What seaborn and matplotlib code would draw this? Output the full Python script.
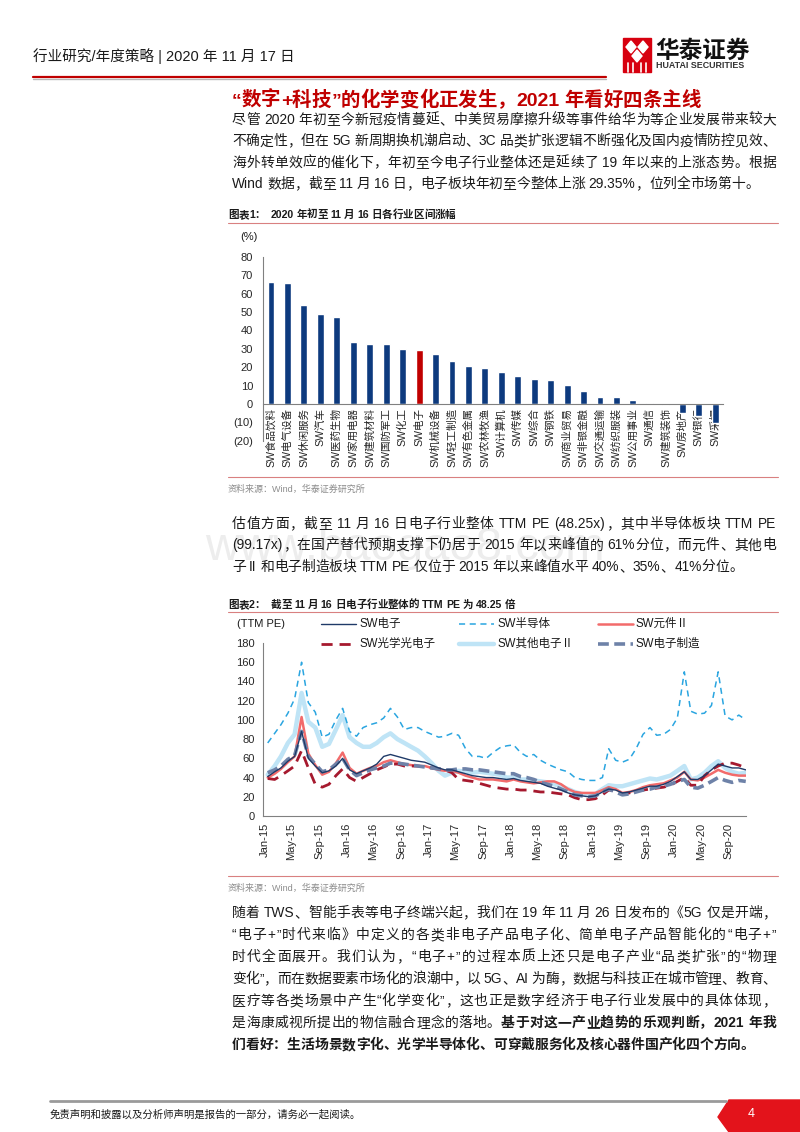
import re

import numpy as np
import pandas as pd
import matplotlib
matplotlib.use("Agg")
from matplotlib import pyplot as plt
import matplotlib.dates as mdates
from matplotlib.lines import Line2D
from matplotlib.patches import Polygon, Rectangle
from matplotlib.ticker import FuncFormatter
import seaborn as sns

# ---- data: 2020 YTD change by SW industry (%) ----
industries = ["SW食品饮料", "SW电气设备", "SW休闲服务", "SW汽车", "SW医药生物", "SW家用电器",
              "SW建筑材料", "SW国防军工", "SW化工", "SW电子", "SW机械设备", "SW轻工制造",
              "SW有色金属", "SW农林牧渔", "SW计算机", "SW传媒", "SW综合", "SW钢铁",
              "SW商业贸易", "SW非银金融", "SW交通运输", "SW纺织服装", "SW公用事业", "SW通信",
              "SW建筑装饰", "SW房地产", "SW银行", "SW采掘"]
changes = [66.5, 65.8, 54.0, 49.1, 47.4, 34.0, 32.6, 32.4, 29.7, 29.35, 27.1, 23.4,
           20.7, 19.8, 17.3, 15.4, 13.7, 13.1, 10.1, 7.3, 3.9, 3.7, 2.2, 0.6,
           -0.5, -4.9, -6.4, -10.5]
bar_ticks = [80, 70, 60, 50, 40, 30, 20, 10, 0, -10, -20]

# ---- data: monthly TTM PE, Jan-2015 .. Nov-2020 ----
pe_months = pd.date_range("2015-01-01", periods=71, freq="MS") + pd.Timedelta(days=14)
pe_elec = [41, 46, 50, 57, 62, 88, 60, 52, 45, 47, 52, 60,
           48, 44, 47, 50, 54, 62, 64, 62, 60, 58, 57, 56,
           53, 50, 48, 48, 46, 44, 42, 41, 40, 40, 39, 38,
           39, 37, 36, 35, 34, 31, 29, 27, 24, 22, 21, 20,
           21, 25, 28, 27, 24, 25, 27, 29, 31, 31, 33, 36,
           41, 46, 38, 38, 42, 48, 54, 52, 50, 50, 48]
pe_semi = [76, 86, 95, 107, 122, 160, 118, 108, 82, 85, 100, 112,
           88, 83, 92, 95, 97, 102, 112, 103, 90, 92, 92, 88,
           85, 82, 83, 86, 84, 70, 62, 62, 60, 66, 71, 73,
           74, 66, 62, 64, 58, 54, 51, 48, 46, 40, 38, 37,
           37, 40, 70, 58, 56, 59, 70, 85, 92, 84, 85, 90,
           102, 150, 109, 106, 107, 115, 150, 104, 100, 105, 100]
pe_comp = [40, 44, 49, 56, 62, 103, 65, 53, 43, 46, 55, 66,
           50, 44, 47, 50, 52, 56, 58, 56, 54, 53, 52, 52,
           50, 48, 47, 47, 45, 42, 40, 38, 38, 38, 37, 36,
           38, 36, 35, 34, 35, 36, 36, 33, 28, 25, 24, 24,
           24, 27, 30, 28, 24, 25, 27, 30, 32, 33, 34, 37,
           40, 46, 38, 37, 40, 44, 48, 45, 43, 42, 42]
pe_opto = [39, 38, 42, 47, 52, 68, 50, 33, 30, 33, 42, 49,
           40, 36, 40, 44, 48, 51, 54, 54, 52, 52, 52, 51,
           50, 49, 48, 45, 38, 37, 36, 34, 32, 30, 29, 28,
           28, 27, 27, 26, 25, 25, 24, 23, 22, 19, 17, 17,
           18, 22, 27, 26, 23, 24, 26, 27, 28, 29, 30, 32,
           36, 40, 32, 32, 42, 48, 52, 55, 55, 53, 50]
pe_other = [43, 52, 62, 76, 85, 128, 98, 92, 72, 75, 90, 105,
            82, 76, 72, 72, 76, 82, 86, 80, 76, 72, 68, 62,
            55, 47, 42, 45, 47, 46, 45, 46, 45, 44, 43, 40,
            40, 38, 38, 37, 36, 35, 33, 31, 28, 25, 23, 22,
            23, 28, 32, 31, 31, 33, 35, 37, 39, 38, 40, 42,
            47, 52, 38, 40, 45, 52, 57, 50, 46, 44, 45]
pe_mfg = [45, 48, 52, 59, 63, 88, 62, 54, 46, 48, 54, 60,
          48, 42, 45, 48, 50, 52, 55, 55, 54, 53, 52, 51,
          50, 49, 48, 48, 49, 49, 48, 48, 47, 46, 45, 44,
          44, 41, 40, 38, 35, 33, 31, 28, 25, 22, 21, 20,
          21, 25, 28, 25, 22, 23, 25, 27, 28, 30, 31, 33,
          36, 38, 30, 29, 32, 36, 40, 37, 35, 37, 36]
pe_ticks = list(range(0, 181, 20))

W, H = 800, 1132
BODY = 9.95


def fx(x):
    return x / W


def fy(y):
    return 1 - y / H


sns.set_style("white")
plt.rcParams["font.family"] = ["Liberation Sans", "Noto Sans CJK SC"]
plt.rcParams["axes.unicode_minus"] = False

fig = plt.figure(figsize=(8, 11.32), dpi=100)
renderer = fig.canvas.get_renderer()
TXT = "#1a1a1a"
RED = "#C00000"


def put_line(segs, x, y, size=BODY, right=None, color=TXT):
    """draw one text line, optionally justified between x and right (pixels)"""
    toks = []
    for text, weight in segs:
        for tok in re.findall(r"[!-~]+| |[^ -~]", text):
            toks.append((tok, weight))
    base = fy(y + size * 100 / 72 * 0.36)
    arts, widths = [], []
    for tok, weight in toks:
        if tok == " ":
            arts.append(None)
            widths.append(size * 100 / 72 * 0.25)
            continue
        t = fig.text(0, base, tok, fontsize=size, fontweight=weight, color=color,
                     va="baseline", ha="left")
        arts.append(t)
        widths.append(t.get_window_extent(renderer=renderer).width)
    gap = 0
    if right is not None and len(toks) > 1:
        gap = (right - x - sum(widths)) / (len(toks) - 1)
    pos = x
    for t, w in zip(arts, widths):
        if t is not None:
            t.set_x(fx(pos))
        pos += w + gap


def hline(x0, x1, y, color, lw):
    fig.add_artist(Line2D([fx(x0), fx(x1)], [fy(y), fy(y)], color=color, lw=lw))


def paragraph(lines, x, y0, step, right):
    for i, segs in enumerate(lines):
        last = i == len(lines) - 1
        put_line(segs, x, y0 + i * step, right=None if last else right)


# ---- page header ----
fig.text(fx(33), fy(56), "行业研究/年度策略 | 2020 年 11 月 17 日", fontsize=10.5, color=TXT, va="center")
hline(33, 606, 77, RED, 1.6)
hline(33, 606, 79, "#b8b8b8", 1.0)
fig.add_artist(Rectangle((fx(623), fy(72)), 28 / W, 34 / H, color="#D7000F", transform=fig.transFigure))
for cx, cy in [(631, 47), (643, 47), (637, 56)]:
    fig.add_artist(Polygon([(fx(cx - 5), fy(cy)), (fx(cx), fy(cy - 6)), (fx(cx + 5), fy(cy)), (fx(cx), fy(cy + 6))],
                           closed=True, color="white", transform=fig.transFigure))
for sx in [628, 633, 641, 646]:
    fig.add_artist(Line2D([fx(sx), fx(sx)], [fy(63), fy(72)], color="white", lw=1.2))
fig.text(fx(655), fy(51), "华泰证券", fontsize=17, fontweight="bold", color="#111111", va="center")
fig.text(fx(656), fy(66), "HUATAI SECURITIES", fontsize=6.4, fontweight="bold", color="#333333", va="center")

# ---- section title and first paragraph ----
put_line([("“数字+科技”的化学变化正发生，2021 年看好四条主线", "bold")], 232, 99, size=14, color=RED)
para1 = [
    [("尽管 2020 年初至今新冠疫情蔓延、中美贸易摩擦升级等事件给华为等企业发展带来较大", "normal")],
    [("不确定性，但在 5G 新周期换机潮启动、3C 品类扩张逻辑不断强化及国内疫情防控见效、", "normal")],
    [("海外转单效应的催化下，年初至今电子行业整体还是延续了 19 年以来的上涨态势。根据", "normal")],
    [("Wind 数据，截至 11 月 16 日，电子板块年初至今整体上涨 29.35%，位列全市场第十。", "normal")],
]
paragraph(para1, 232, 119, 21.3, 776)

# ---- figure 1 ----
put_line([("图表1：  2020 年初至 11 月 16 日各行业区间涨幅", "bold")], 228, 214, size=7.6)
hline(228, 778, 223, "#D98080", 0.8)
fig.text(fx(240), fy(237), "(%)", fontsize=8, color=TXT, va="center")

ax1 = fig.add_axes([fx(262.8), fy(440.75), 460.6 / W, (440.75 - 257) / H])
bar_df = pd.DataFrame({"industry": industries, "chg": changes})
bar_colors = [RED if n == "SW电子" else "#0D3A7E" for n in industries]
sns.barplot(data=bar_df, x="industry", y="chg", hue="industry", palette=bar_colors,
            legend=False, width=0.42, saturation=1, ax=ax1)
# the category axis sits on the zero line (set before tick styling: it resets ticks)
ax1.spines["bottom"].set_position(("data", 0))
for s in ["top", "right"]:
    ax1.spines[s].set_visible(False)
for s in ["bottom", "left"]:
    ax1.spines[s].set_color("#808080")
    ax1.spines[s].set_linewidth(0.8)
ax1.set_xlim(-0.5, len(industries) - 0.5)
ax1.set_ylim(-20, 80)
ax1.set_yticks(bar_ticks)
ax1.yaxis.set_major_formatter(FuncFormatter(lambda v, p: f"({abs(int(v))})" if v < 0 else f"{int(v)}"))
ax1.set_xticks(range(len(industries)))
ax1.set_xticklabels(industries, fontsize=7.6)
ax1.set_xticks(np.arange(-0.5, len(industries), 1), minor=True)
ax1.tick_params(axis="x", which="major", length=0, pad=3, labelrotation=90)
ax1.tick_params(axis="x", which="minor", length=3, direction="out", color="#808080")
ax1.tick_params(axis="y", length=4, direction="out", color="#808080", labelsize=8, pad=3)
ax1.set_xlabel("")
ax1.set_ylabel("")
ax1.set_facecolor("none")

hline(228, 778, 477, "#D98080", 0.8)
fig.text(fx(228), fy(489), "资料来源：Wind，华泰证券研究所", fontsize=6.5, color="#8c8c8c", va="center")

# ---- second paragraph ----
fig.text(fx(405), fy(548), "www.baogao8.com", fontsize=34, color="#ededed", ha="center", va="center", zorder=0)
para2 = [
    [("估值方面，截至 11 月 16 日电子行业整体 TTM PE (48.25x)，其中半导体板块 TTM PE", "normal")],
    [("(99.17x)，在国产替代预期支撑下仍居于 2015 年以来峰值的 61%分位，而元件、其他电", "normal")],
    [("子 II 和电子制造板块 TTM PE 仅位于 2015 年以来峰值水平 40%、35%、41%分位。", "normal")],
]
paragraph(para2, 232, 523, 21.5, 776)

# ---- figure 2 ----
put_line([("图表2：  截至 11 月 16 日电子行业整体的 TTM PE 为 48.25 倍", "bold")], 228, 604, size=7.6)
hline(228, 778, 612, "#D98080", 0.8)
fig.text(fx(237), fy(624), "(TTM PE)", fontsize=8, color=TXT, va="center")

series = [
    ("SW其他电子Ⅱ", pe_other, "#BFE4F6", 3.2, "-"),
    ("SW半导体", pe_semi, "#2AA5E0", 1.1, (0, (4, 3))),
    ("SW元件Ⅱ", pe_comp, "#F26B6B", 1.8, "-"),
    ("SW光学光电子", pe_opto, "#A6192E", 2.0, (0, (4, 2.5))),
    ("SW电子制造", pe_mfg, "#6E82A8", 2.6, (0, (3, 1.5))),
    ("SW电子", pe_elec, "#1F3A68", 1.0, "-"),
]
ax2 = fig.add_axes([fx(263), fy(816), 483 / W, (816 - 643) / H])
for name, vals, col, lw, ls in series:
    sns.lineplot(x=pe_months, y=vals, color=col, lw=lw, linestyle=ls, ax=ax2)
ax2.set_xlim(pd.Timestamp("2014-12-25"), pd.Timestamp("2020-11-16"))
ax2.set_ylim(0, 180)
ax2.set_yticks(pe_ticks)
ax2.xaxis.set_major_locator(mdates.MonthLocator(bymonth=[1, 5, 9]))
ax2.xaxis.set_major_formatter(mdates.DateFormatter("%b-%y"))
ax2.tick_params(axis="x", length=3, direction="out", color="#808080", labelsize=8, labelrotation=90, pad=2)
ax2.tick_params(axis="y", length=3, direction="out", color="#808080", labelsize=8, pad=3)
ax2.set_xlabel("")
ax2.set_ylabel("")
for s in ["top", "right"]:
    ax2.spines[s].set_visible(False)
for s in ["bottom", "left"]:
    ax2.spines[s].set_color("#808080")
    ax2.spines[s].set_linewidth(0.8)

# legend, laid out like the original (3 columns, 2 rows)
legend_pos = {
    "SW电子": (321, 624), "SW半导体": (459, 624), "SW元件Ⅱ": (598, 624),
    "SW光学光电子": (321, 644), "SW其他电子Ⅱ": (459, 644), "SW电子制造": (598, 644),
}
for name, vals, col, lw, ls in series:
    lx, ly = legend_pos[name]
    fig.add_artist(Line2D([fx(lx), fx(lx + 35)], [fy(ly), fy(ly)], color=col, lw=lw, linestyle=ls))
    fig.text(fx(lx + 38), fy(ly), name, fontsize=8.3, color=TXT, va="center")

hline(228, 778, 876, "#D98080", 0.8)
fig.text(fx(228), fy(888), "资料来源：Wind，华泰证券研究所", fontsize=6.5, color="#8c8c8c", va="center")

# ---- third paragraph ----
para3 = [
    [("随着 TWS、智能手表等电子终端兴起，我们在 19 年 11 月 26 日发布的《5G 仅是开端，", "normal")],
    [("“电子+”时代来临》中定义的各类非电子产品电子化、简单电子产品智能化的“电子+”", "normal")],
    [("时代全面展开。我们认为，“电子+”的过程本质上还只是电子产业“品类扩张”的“物理", "normal")],
    [("变化”，而在数据要素市场化的浪潮中，以 5G、AI 为酶，数据与科技正在城市管理、教育、", "normal")],
    [("医疗等各类场景中产生“化学变化”，这也正是数字经济于电子行业发展中的具体体现，", "normal")],
    [("是海康威视所提出的物信融合理念的落地。", "normal"), ("基于对这一产业趋势的乐观判断，2021 年我", "bold")],
    [("们看好：生活场景数字化、光学半导体化、可穿戴服务化及核心器件国产化四个方向。", "bold")],
]
paragraph(para3, 232, 912, 22, 776)

# ---- footer ----
hline(50, 726, 1101, "#9a9a9a", 2.0)
fig.add_artist(Polygon([(fx(729), fy(1100)), (fx(718), fy(1117)), (fx(729), fy(1132)),
                        (fx(800), fy(1132)), (fx(800), fy(1100))],
                       closed=True, color="#E3131B", transform=fig.transFigure))
fig.text(fx(50), fy(1114), "免责声明和披露以及分析师声明是报告的一部分，请务必一起阅读。", fontsize=7.5, color=TXT, va="center")
fig.text(fx(748), fy(1114), "4", fontsize=9, color="white", va="center")

fig.savefig("out.png", dpi=100)
